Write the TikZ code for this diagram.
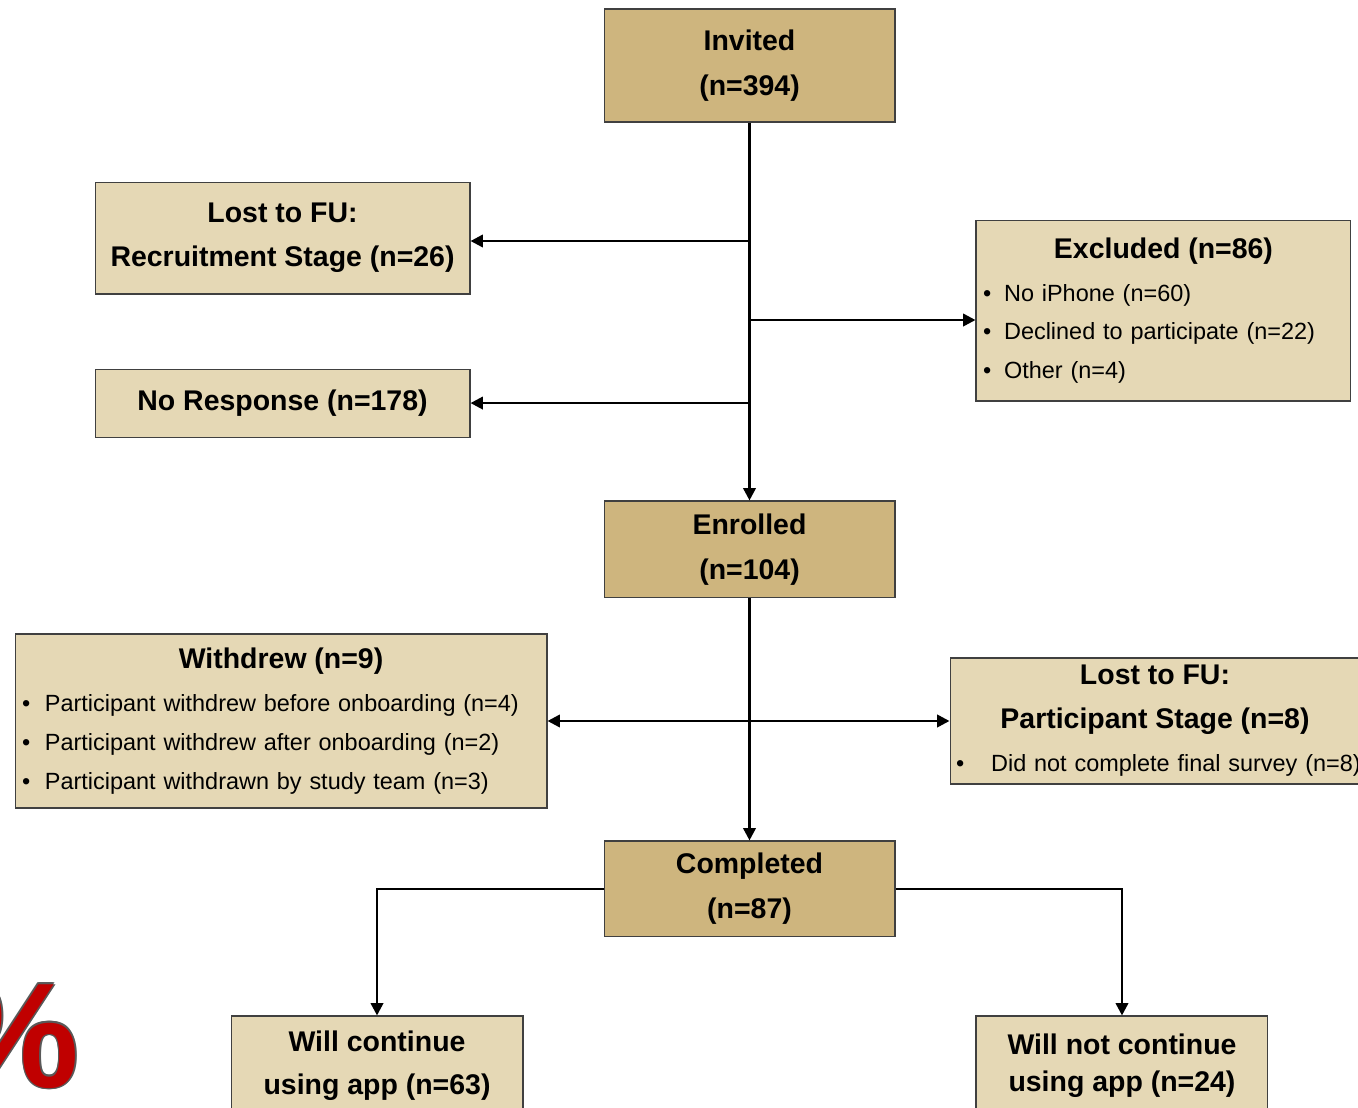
\documentclass[tikz,border=0pt]{standalone}
\usepackage{fontspec}
\setmainfont{Liberation Sans}
\usepackage{tikz}
\usetikzlibrary{arrows.meta,positioning}
\definecolor{boxdark}{HTML}{CEB57E}
\definecolor{boxlight}{HTML}{E5D8B5}
\definecolor{boxline}{HTML}{404040}
\definecolor{pctred}{HTML}{C00000}
\definecolor{pctgray}{HTML}{595959}
\newcommand{\listtitle}[1]{\makebox[\hsize][c]{\fontsize{16.2}{22.1}\selectfont\bfseries #1}}
\newcommand{\flowbullet}[2][12pt]{\makebox[\hsize][l]{\makebox[#1][l]{\textbullet}#2}}

\begin{document}
\begin{tikzpicture}[x=0.02cm, y=-0.02cm,
  stage/.style={draw=boxline, line width=0.6pt, fill=boxdark, minimum width=5.82cm, align=center, inner sep=0pt, font=\fontsize{16.2}{25.5}\selectfont\bfseries},
  side/.style={draw=boxline, line width=0.6pt, fill=boxlight, minimum width=7.5cm, align=center, inner sep=0pt, font=\fontsize{16.2}{25}\selectfont\bfseries},
  listbox/.style={draw=boxline, line width=0.6pt, fill=boxlight, inner xsep=0.14cm, inner ysep=0pt, align=left, font=\fontsize{13.35}{22.1}\selectfont},
  arr/.style={-{Triangle[length=7pt, width=7pt]}, line width=1.45pt, black}
]
  \useasboundingbox (0,0) rectangle (1358,1107);
  \clip (0,0) rectangle (1358,1107);

  \node[stage, minimum height=2.26cm] (invited) at (749.5,65.5) {Invited\\(n=394)};
  \node[side, minimum height=2.24cm, below left=1.18cm and 2.66cm of invited] (lostrec) {Lost to FU:\\Recruitment Stage (n=26)};
  \node[side, minimum height=1.36cm, below=1.48cm of lostrec] (noresp) {No Response (n=178)};
  \node[listbox, text width=7.22cm, minimum height=3.62cm, below right=1.94cm and 1.6cm of invited] (excluded)
    {\listtitle{Excluded (n=86)}\\[2.3pt]
     \flowbullet{No iPhone (n=60)}\\
     \flowbullet{Declined to participate (n=22)}\\
     \flowbullet{Other (n=4)}};

  \node[stage, minimum height=1.94cm, below=7.56cm of invited] (enrolled) {Enrolled\\(n=104)};
  \node[listbox, text width=10.36cm, minimum height=3.48cm, below left=0.7cm and 1.12cm of enrolled] (withdrew)
    {\listtitle{Withdrew (n=9)}\\[2.3pt]
     \flowbullet[13pt]{Participant withdrew before onboarding (n=4)}\\
     \flowbullet[13pt]{Participant withdrew after onboarding (n=2)}\\
     \flowbullet[13pt]{Participant withdrawn by study team (n=3)}};
  \node[listbox, text width=7.96cm, inner xsep=0.12cm, minimum height=2.52cm, font=\fontsize{13.35}{24.7}\selectfont, below right=1.18cm and 1.08cm of enrolled] (lostpart)
    {\listtitle{Lost to FU:}\\
     \listtitle{Participant Stage (n=8)}\\
     \flowbullet[20pt]{Did not complete final survey (n=8)}};

  \node[stage, minimum height=1.92cm, below=4.84cm of enrolled] (completed) {Completed\\(n=87)};
  \node[side, minimum width=5.84cm, minimum height=2cm, font=\fontsize{16.2}{24.4}\selectfont\bfseries, below left=1.56cm and 1.6cm of completed] (keepapp) {Will continue\\using app (n=63)};
  \node[side, minimum width=5.84cm, minimum height=2cm, font=\fontsize{16.2}{21}\selectfont\bfseries, below right=1.56cm and 1.6cm of completed] (dropapp) {Will not continue\\using app (n=24)};

  % trunk joints
  \coordinate (recjoin) at (749.5,241);
  \coordinate (exjoin) at (749.5,320);

  \draw[arr] (invited) -- (enrolled);
  \draw[arr] (recjoin) -- (recjoin -| lostrec.east);
  \draw[arr] (exjoin) -- (exjoin -| excluded.west);
  \draw[arr] (invited.south |- noresp.east) -- (noresp.east);
  \draw[arr] (enrolled) -- (completed);
  \draw[arr] (enrolled.south |- withdrew.east) -- (withdrew.east);
  \draw[arr] (enrolled.south |- lostpart.west) -- (lostpart.west);
  \draw[arr] (completed.west) -| (keepapp.north);
  \draw[arr] (completed.east) -| (dropapp.north);

  % cut-off percent sign
  \foreach \dx/\dy [count=\k] in {-1.5/0, 1.5/0, 0/-1.5, 0/1.5, -1.1/-1.1, 1.1/-1.1, -1.1/1.1, 1.1/1.1}
    \node[anchor=base east, inner sep=0pt, text=pctgray, font=\fontsize{85}{85}\selectfont\bfseries] (pctedge\k) at (80+\dx,1087+\dy) {\%};
  \node[anchor=base east, inner sep=0pt, text=pctred, font=\fontsize{85}{85}\selectfont\bfseries] (pct) at (80,1087) {\%};
\end{tikzpicture}
\end{document}
